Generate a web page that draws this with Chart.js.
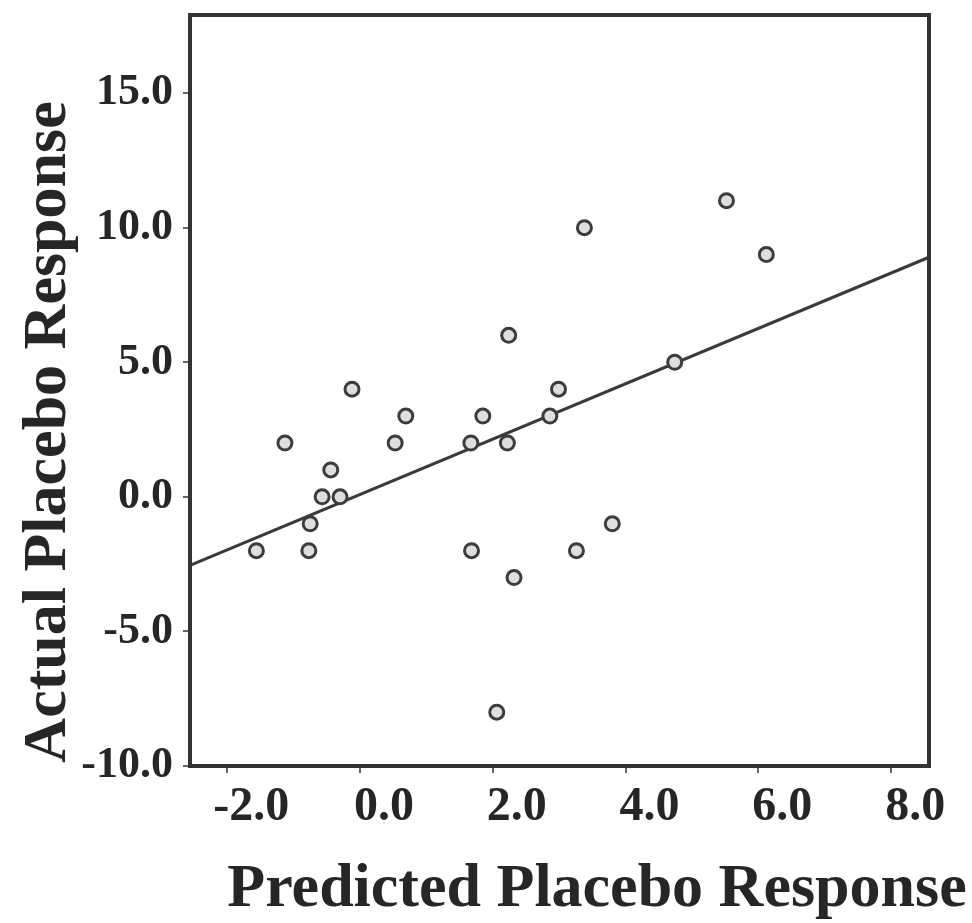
<!DOCTYPE html>
<html>
<head>
<meta charset="utf-8">
<title>Predicted vs actual placebo response</title>
<script src="https://cdn.jsdelivr.net/npm/chart.js@4.4.1/dist/chart.umd.min.js"></script>
<style>
  html, body { margin: 0; padding: 0; background: #fff; }
  #wrap { width: 972px; height: 923px; position: relative; }
</style>
</head>
<body>
<div id="wrap"><canvas id="chart"></canvas></div>
<script>
// Scatter of predicted vs actual placebo response, with fitted line.

const X_TICKS = [-2, 0, 2, 4, 6, 8];
const Y_TICKS = [-10, -5, 0, 5, 10, 15];

const PREDICTED = [-1.56, -1.13, -0.77, -0.75, -0.57, -0.44, -0.30, -0.12, 0.53, 0.69,
  1.67, 1.68, 1.85, 2.06, 2.22, 2.24, 2.32, 2.86, 2.99, 3.26, 3.38, 3.80, 4.74, 5.52, 6.12];
const ACTUAL = [-2, 2, -2, -1, 0, 1, 0, 4, 2, 3,
  2, -2, 3, -8, 2, 6, -3, 3, 4, -2, 10, -1, 5, 11, 9];

// fit line, end points at the frame edges
const FIT_X = [-2.56, 8.57];
const FIT_Y = [-2.55, 8.9];

const INK = '#262626';
const FONT = '"Liberation Serif", "Times New Roman", serif';

const $ = (id) => document.getElementById(id);

const frameAndTitles = {
  id: 'frameAndTitles',
  afterDraw(chart) {
    const { ctx, chartArea: a } = chart;
    ctx.save();
    ctx.strokeStyle = '#333';
    ctx.lineWidth = 4;
    ctx.strokeRect(a.left, a.top, a.right - a.left, a.bottom - a.top);

    ctx.fillStyle = INK;
    ctx.font = `bold 62px ${FONT}`;
    ctx.textAlign = 'center';
    ctx.textBaseline = 'alphabetic';
    ctx.fillText('Predicted Placebo Response', 597, 906);

    ctx.translate(65, 432);
    ctx.rotate(-Math.PI / 2);
    ctx.fillText('Actual Placebo Response', 0, 0);
    ctx.restore();
  },
};

const points = PREDICTED.map((x, i) => ({ x, y: ACTUAL[i] }));
const fit = FIT_X.map((x, i) => ({ x, y: FIT_Y[i] }));

new Chart($('chart'), {
  type: 'scatter',
  data: {
    datasets: [
      {
        type: 'line',
        data: fit,
        borderColor: '#3a3a3a',
        borderWidth: 3,
        pointRadius: 0,
        fill: false,
        order: 2,
      },
      {
        data: points,
        pointRadius: 7,
        pointBorderWidth: 3,
        pointBorderColor: '#3c3c3c',
        pointBackgroundColor: '#dedede',
        order: 1,
      },
    ],
  },
  options: {
    responsive: true,
    maintainAspectRatio: false,
    animation: false,
    layout: { padding: { top: 15, right: 43, left: 0, bottom: 0 } },
    plugins: { legend: { display: false }, tooltip: { enabled: false } },
    scales: {
      x: {
        type: 'linear',
        min: -2.56,
        max: 8.57,
        afterBuildTicks: (s) => { s.ticks = X_TICKS.map((v) => ({ value: v })); },
        afterFit: (s) => { s.height = 157; s.paddingLeft = 0; s.paddingRight = 0; },
        grid: { display: true, drawOnChartArea: false, drawTicks: true, tickLength: 7, color: '#666', lineWidth: 2 },
        border: { display: true, color: '#333', width: 4 },
        ticks: {
          callback: (v) => Number(v).toFixed(1),
          font: { family: FONT, size: 48, weight: 'bold' },
          color: INK,
          padding: 6,
          labelOffset: 24,
          maxRotation: 0,
          autoSkip: false,
        },
      },
      y: {
        type: 'linear',
        min: -10,
        max: 17.9,
        afterBuildTicks: (s) => { s.ticks = Y_TICKS.map((v) => ({ value: v })); },
        afterFit: (s) => { s.width = 190; s.paddingTop = 0; s.paddingBottom = 0; },
        grid: { display: true, drawOnChartArea: false, drawTicks: true, tickLength: 7, color: '#666', lineWidth: 2 },
        border: { display: true, color: '#333', width: 4 },
        ticks: {
          callback: (v) => Number(v).toFixed(1),
          font: { family: FONT, size: 44, weight: 'bold' },
          color: INK,
          padding: 10,
          autoSkip: false,
        },
      },
    },
  },
  plugins: [frameAndTitles],
});
</script>
</body>
</html>
